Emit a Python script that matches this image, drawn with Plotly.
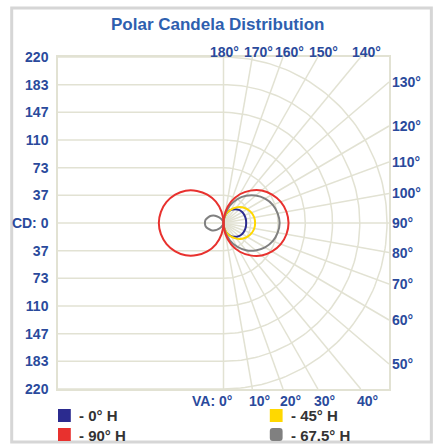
import re
import numpy as np
import plotly.graph_objects as go

# ---------------- data ----------------
VA = list(range(0, 181, 10))  # vertical angles (deg), 0 = straight down
cd_0H = [0, 9, 15, 20, 24, 27, 29, 30, 30.5, 30.5, 30.5, 30, 29, 27, 24, 20, 15, 9, 0]
cd_45H = [0, 7.5, 14.5, 21, 27, 32.5, 36.8, 40, 42, 42.5, 42, 40, 36.8, 32.5, 27, 21, 14.5, 7.5, 0]
cd_67H = [0, 11, 24, 36, 47, 56.5, 64.5, 70.5, 74, 75.5, 74, 70.5, 64.5, 56.5, 47, 36, 24, 11, 0]
cd_67H_opp = [0, 1, 3, 6, 10, 15, 19, 22, 24.5, 25, 24.5, 22, 19, 15, 10, 6, 3, 1, 0]
cd_90H = [0, 15, 30, 44, 56, 67, 75.5, 82, 86, 87.5, 86, 82, 75.5, 67, 56, 44, 30, 15, 0]
cd_90H_opp = [0, 15, 30, 43.5, 55.5, 66.5, 75, 81.5, 85.5, 87, 85.5, 81.5, 75, 66.5, 55.5, 43.5, 30, 15, 0]

series_names = ["0° H", "45° H", "67.5° H", "90° H"]
series_colors = ["#2b2b8f", "#ffd800", "#808080", "#e8312e"]

cd_max = 220
cd_tick_labels = ["220", "183", "147", "110", "73", "37", "CD: 0", "37", "73", "110", "147", "183", "220"]
top_angles = [180, 170, 160, 150, 140]
right_angles = [130, 120, 110, 100, 90, 80, 70, 60, 50]
bottom_angles = [0, 10, 20, 30, 40]
grid_angles = list(range(10, 180, 10))

# ---------------- geometry ----------------
W, H = 435, 445
L, R, T, B = 53, 389, 57, 389  # plot area in pixels
cd_per_px = 2 * cd_max / (B - T)
X_half = (R - L) / 2 * cd_per_px
Y_half = cd_max

def pxx(p):
    return (p - L) / (R - L)

def pxy(p):
    return (B - p) / (B - T)

GRID = "#e2e2d3"
BLUE_TXT = "#2a4a9c"
FONT = "Liberation Sans"

fig = go.Figure()

# ---------------- grid ----------------
gx, gy = [], []
tickvals = list(np.linspace(cd_max, -cd_max, 13))
for v in tickvals:  # horizontal lines, left half
    gx += [-X_half, 0, None]
    gy += [v, v, None]
gx += [0, 0, None]
gy += [-Y_half, Y_half, None]
for k in range(1, 7):  # semicircle arcs, right half
    r = cd_max * k / 6
    th = np.radians(np.linspace(0, 180, 121))
    gx += list(r * np.sin(th)) + [None]
    gy += list(-r * np.cos(th)) + [None]
for a in grid_angles:  # radial lines to the frame edge
    t = np.radians(a)
    dx, dy = np.sin(t), -np.cos(t)
    s = X_half / dx
    if abs(dy) > 1e-9:
        s = min(s, Y_half / abs(dy))
    gx += [0, s * dx, None]
    gy += [0, s * dy, None]
fig.add_trace(go.Scatter(x=gx, y=gy, mode="lines", line=dict(color=GRID, width=1.5),
                         hoverinfo="skip", showlegend=False))

# ---------------- curves ----------------
def polar_xy(values, side=1):
    th = np.radians(VA)
    v = np.array(values, dtype=float)
    return side * v * np.sin(th), -v * np.cos(th)

curves = [
    (cd_0H, 1, 0), (cd_45H, 1, 1), (cd_67H, 1, 2), (cd_67H_opp, -1, 2),
    (cd_90H, 1, 3), (cd_90H_opp, -1, 3),
]
for vals, side, idx in curves:
    x, y = polar_xy(vals, side)
    fig.add_trace(go.Scatter(x=x, y=y, mode="lines",
                             line=dict(color=series_colors[idx], width=2, shape="spline", smoothing=1.0),
                             name=series_names[idx], showlegend=False, hoverinfo="skip"))

annotations = []
lab_font = dict(family=FONT, size=14, color=BLUE_TXT, weight="bold")

# top labels
for a in top_angles:
    xv = Y_half * np.tan(np.radians(180 - a))
    annotations.append(dict(x=xv, y=Y_half, xref="x", yref="y", text=f"{a}°", showarrow=False,
                            font=lab_font, xanchor="center", yanchor="middle",
                            xshift=1 if a == 180 else 6, yshift=5))
# right labels
for a in right_angles:
    yv = -X_half / np.tan(np.radians(a)) if a != 90 else 0
    annotations.append(dict(x=X_half, y=yv, xref="x", yref="y", text=f"{a}°", showarrow=False,
                            font=lab_font, xanchor="left", yanchor="middle", xshift=1))
# bottom labels
for a in bottom_angles:
    xv = Y_half * np.tan(np.radians(a))
    if a == 0:
        annotations.append(dict(x=0, y=-Y_half, xref="x", yref="y", text=f"VA: {a}°", showarrow=False,
                                font=lab_font, xanchor="right", yanchor="middle", xshift=10, yshift=-12))
    else:
        annotations.append(dict(x=xv, y=-Y_half, xref="x", yref="y", text=f"{a}°", showarrow=False,
                                font=lab_font, xanchor="center", yanchor="middle", xshift=7, yshift=-12))

# title
annotations.append(dict(x=pxx(215), y=pxy(25), xref="paper", yref="paper",
                        text="Polar Candela Distribution", showarrow=False,
                        font=dict(family=FONT, size=17, color="#2e5faf", weight="bold"),
                        xanchor="center", yanchor="middle"))

# legend (custom)
shapes = []
legend_pos = {0: (53, 409), 3: (53, 428), 1: (268, 409), 2: (268, 428)}

def conv(m):
    px, py = float(m.group(1)), float(m.group(2))
    return f"{pxx(px):.5f},{pxy(py):.5f}"

for idx, (lx, ly) in legend_pos.items():
    x0, x1 = pxx(lx), pxx(lx + 13)
    y0, y1 = pxy(ly + 13), pxy(ly)
    if idx == 2:
        path = (f"M {lx+3},{ly} L {lx+10},{ly} Q {lx+13},{ly} {lx+13},{ly+3} L {lx+13},{ly+10} "
                f"Q {lx+13},{ly+13} {lx+10},{ly+13} L {lx+3},{ly+13} Q {lx},{ly+13} {lx},{ly+10} "
                f"L {lx},{ly+3} Q {lx},{ly} {lx+3},{ly} Z")
        path = re.sub(r"([-\d.]+),([-\d.]+)", conv, path)
        shapes.append(dict(type="path", xref="paper", yref="paper", path=path,
                           fillcolor=series_colors[idx], line=dict(width=0)))
    else:
        shapes.append(dict(type="rect", xref="paper", yref="paper", x0=x0, x1=x1, y0=y0, y1=y1,
                           fillcolor=series_colors[idx], line=dict(width=0)))
    annotations.append(dict(x=pxx(lx + 19), y=pxy(ly + 7), xref="paper", yref="paper",
                            text=f"- {series_names[idx]}", showarrow=False,
                            font=dict(family=FONT, size=15, color="#333333", weight="bold"),
                            xanchor="left", yanchor="middle"))

# outer frame
shapes.append(dict(type="rect", xref="paper", yref="paper", x0=pxx(6), x1=pxx(432),
                   y0=pxy(442), y1=pxy(8), line=dict(color="#d6d6d6", width=3), layer="below"))

fig.update_layout(
    width=W, height=H, autosize=False,
    margin=dict(l=L, r=W - R, t=T, b=H - B, pad=0),
    paper_bgcolor="white", plot_bgcolor="white",
    showlegend=False,
    annotations=annotations, shapes=shapes,
    xaxis=dict(range=[-X_half, X_half], showgrid=False, zeroline=False, showticklabels=False,
               showline=True, mirror=True, linecolor=GRID, linewidth=1.5, fixedrange=True),
    yaxis=dict(range=[-Y_half, Y_half], showgrid=False, zeroline=False,
               tickvals=tickvals, ticktext=cd_tick_labels, ticks="", ticklabelstandoff=5,
               tickfont=dict(family=FONT, size=14, color=BLUE_TXT, weight="bold"),
               showline=True, mirror=True, linecolor=GRID, linewidth=1.5, fixedrange=True),
)

fig.write_html("out.html", config={"displayModeBar": False},
               post_script="document.body.style.margin='0';document.body.style.overflow='hidden';")
